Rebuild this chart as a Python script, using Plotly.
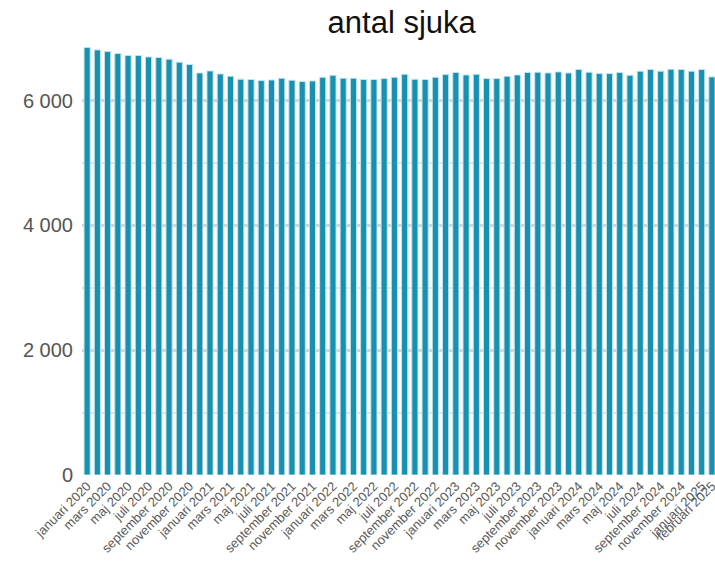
import plotly.graph_objects as go

month_names = ["januari", "februari", "mars", "april", "maj", "juni",
               "juli", "augusti", "september", "oktober", "november", "december"]
years = [2020, 2021, 2022, 2023, 2024, 2025]
categories = [f"{m} {y}" for y in years for m in month_names][:62]

values = [
    6849, 6811, 6785, 6753, 6721, 6721, 6699, 6689, 6662, 6614, 6577, 6442,
    6474, 6426, 6389, 6341, 6337, 6320, 6330, 6357, 6325, 6304, 6314, 6373,
    6405, 6357, 6357, 6337, 6337, 6352, 6373, 6421, 6341, 6337, 6373, 6416,
    6449, 6410, 6421, 6352, 6352, 6389, 6410, 6449, 6454, 6442, 6459, 6442,
    6497, 6454, 6432, 6432, 6449, 6405, 6470, 6497, 6470, 6502, 6497, 6470,
    6497, 6379,
]

tick_labels = categories[0:61:2] + [categories[61]]
y_ticks = [0, 2000, 4000, 6000]
y_tick_text = ["0", "2 000", "4 000", "6 000"]

fig = go.Figure(go.Bar(
    x=categories,
    y=values,
    marker=dict(color="#1890b0", line=dict(color="#bfe3ee", width=1)),
))

fig.update_layout(
    width=715, height=565,
    margin=dict(l=82, r=0, t=45, b=90),
    paper_bgcolor="white", plot_bgcolor="white",
    font=dict(family="Liberation Sans, Arial, sans-serif", color="#555555"),
    title=dict(text="antal sjuka", x=0.505, xref="paper", y=0.961, yanchor="middle",
               font=dict(size=31, color="#111111")),
    bargap=0.4,
    showlegend=False,
)
fig.update_xaxes(
    type="category",
    range=[-0.5, 61.3],
    tickmode="array", tickvals=tick_labels, ticktext=tick_labels,
    tickangle=-45, tickfont=dict(size=13, color="#5a5a5a"),
    showgrid=False, showline=False, ticks="",
    automargin=False,
)
fig.update_yaxes(
    range=[0, 6890],
    tickmode="array", tickvals=y_ticks, ticktext=y_tick_text,
    tickfont=dict(size=20, color="#555555"),
    showgrid=True, gridcolor="#d4d4d4", gridwidth=3,
    minor=dict(dtick=1000, showgrid=True, gridcolor="#e3e3e3", gridwidth=1.5),
    zeroline=False, showline=False, ticks="", ticklabelstandoff=8,
    automargin=False,
)

post = (
    "document.documentElement.style.margin='0';"
    "document.body.style.margin='0';"
    "document.documentElement.style.overflow='hidden';"
    "document.body.style.overflow='hidden';"
)
fig.write_html("out.html", post_script=post, config={"displayModeBar": False})
